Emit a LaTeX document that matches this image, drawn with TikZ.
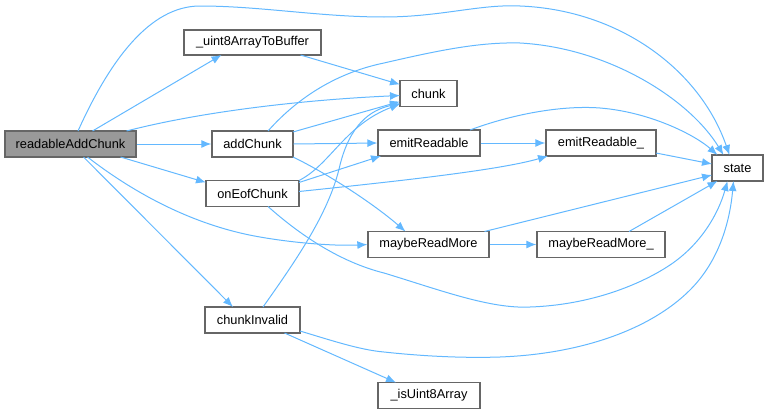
\documentclass[tikz,border=0pt]{standalone}
\usepackage{fontspec}
\setmainfont{Liberation Sans}
\usetikzlibrary{arrows.meta,calc}
\definecolor{edgec}{HTML}{63B8FF}
\definecolor{nborder}{HTML}{666666}
\definecolor{rootfill}{HTML}{999999}
\begin{document}
\begin{tikzpicture}[x=0.75pt,y=-0.75pt,
  box/.style={draw=nborder,line width=1pt,fill=white,inner sep=0pt,minimum height=26*0.75pt,
    font=\fontsize{9.6}{11}\selectfont,text=black},
  root/.style={box,fill=rootfill},
  edg/.style={draw=edgec,line width=0.75pt,-{Latex[length=7.5pt,width=6pt]}}]
\useasboundingbox (0,0) rectangle (768,414);
% nodes
\node[root,minimum width=131*0.75pt] (rAC) at (70.5,144) {readableAddChunk};
\node[box,minimum width=137*0.75pt,minimum height=25*0.75pt] (u8) at (252.5,42.5) {\_uint8ArrayToBuffer};
\node[box,minimum width=57*0.75pt] (chunk) at (428.5,93.5) {chunk};
\node[box,minimum width=81*0.75pt] (addC) at (252.5,144) {addChunk};
\node[box,minimum width=93*0.75pt] (onEof) at (252.5,193.5) {onEofChunk};
\node[box,minimum width=102*0.75pt] (emitR) at (429,143) {emitReadable};
\node[box,minimum width=110*0.75pt] (emitRu) at (601,143) {emitReadable\_};
\node[box,minimum width=51*0.75pt] (state) at (737.5,168) {state};
\node[box,minimum width=121*0.75pt] (mRM) at (428.5,244.5) {maybeReadMore};
\node[box,minimum width=128*0.75pt] (mRMu) at (601,244.5) {maybeReadMore\_};
\node[box,minimum width=95*0.75pt] (cInv) at (252.5,320) {chunkInvalid};
\node[box,minimum width=102*0.75pt] (isU8) at (429,395.5) {\_isUint8Array};
% edges
\draw[edg] ($(rAC)+(7.5,-13)$) .. controls (110,60) and (150,6) .. (200,6)
  .. controls (260,6) and (320,17) .. (384,17) .. controls (440,17) and (480,4) .. (520,6)
  .. controls (620,10) and (700,70) .. ($(state)+(-8,-13)$);
\draw[edg] ($(addC)+(15.5,-13)$) .. controls (300,95) and (340,72) .. (384,63)
  .. controls (440,50) and (480,42) .. (520,43) .. controls (610,48) and (690,100) .. ($(state)+(-14,-13)$);
\draw[edg] ($(emitR)+(41,-13)$) .. controls (510,115) and (560,105) .. (600,108)
  .. controls (650,112) and (695,135) .. ($(state)+(-20,-13)$);
\draw[edg] ($(emitRu)+(55,10)$) -- ($(state)+(-25.5,-4)$);
\draw[edg] ($(mRM)+(56,-13)$) -- ($(state)+(-25.5,7)$);
\draw[edg] ($(mRMu)+(28,-13)$) -- ($(state)+(-20,13)$);
\draw[edg] ($(onEof)+(15.5,13)$) .. controls (300,235) and (340,262) .. (384,273)
  .. controls (440,290) and (490,309) .. (530,307) .. controls (590,305) and (640,285) .. (670,265)
  .. controls (700,245) and (718,215) .. ($(state)+(-10,13)$);
\draw[edg] ($(cInv)+(47.5,11)$) .. controls (330,340) and (360,350) .. (384,352)
  .. controls (430,357) and (470,358) .. (500,357) .. controls (580,354) and (650,330) .. (690,290)
  .. controls (720,260) and (730,220) .. ($(state)+(-4,13)$);
\draw[edg] ($(cInv)+(32,13)$) -- ($(isU8)+(-33,-13)$);
\draw[edg] ($(cInv)+(10.5,-13)$) .. controls (300,255) and (330,210) .. (340,165)
  .. controls (350,125) and (370,110) .. ($(chunk)+(-28.5,10)$);
\draw[edg] ($(onEof)+(46.5,-13)$) .. controls (330,165) and (345,125) .. ($(chunk)+(-28.5,10.5)$);
\draw[edg] ($(onEof)+(46.5,-11)$) -- ($(emitR)+(-48,13)$);
\draw[edg] ($(onEof)+(46.5,-2)$) .. controls (400,181) and (500,170) .. ($(emitRu)+(-53,13)$);
\draw[edg] ($(rAC)+(22,-13)$) -- ($(u8)+(-31,12.5)$);
\draw[edg] ($(u8)+(48,12.5)$) -- ($(chunk)+(-28.5,-9)$);
\draw[edg] ($(rAC)+(56,-13)$) .. controls (200,112) and (300,100) .. ($(chunk)+(-28.5,2)$);
\draw[edg] (rAC.east) -- (addC.west);
\draw[edg] ($(rAC)+(50,13)$) -- ($(onEof)+(-46.5,-11)$);
\draw[edg] ($(rAC)+(17,13)$) .. controls (130,190) and (190,225) .. (260,237)
  .. controls (300,244) and (340,246) .. (mRM.west);
\draw[edg] ($(rAC)+(13,13)$) -- ($(cInv)+(-19.5,-13)$);
\draw[edg] ($(addC)+(40.5,-12)$) -- ($(chunk)+(-28.5,8)$);
\draw[edg] (addC.east) -- (emitR.west);
\draw[edg] ($(addC)+(40.5,13)$) .. controls (330,175) and (375,205) .. ($(mRM)+(-23,-13)$);
\draw[edg] (emitR.east) -- (emitRu.west);
\draw[edg] (mRM.east) -- (mRMu.west);
\end{tikzpicture}
\end{document}
